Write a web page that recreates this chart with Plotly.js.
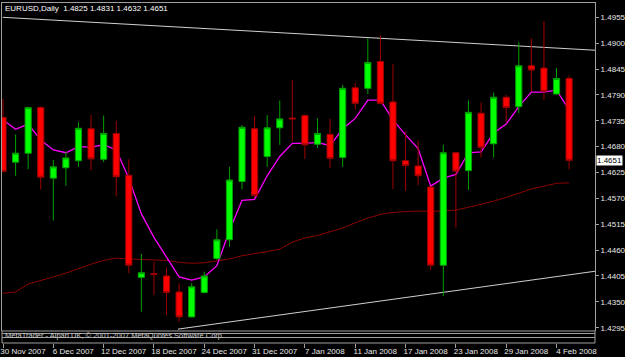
<!DOCTYPE html>
<html><head><meta charset="utf-8">
<script src="https://cdn.plot.ly/plotly-3.0.1.min.js"></script>
<style>html,body{margin:0;padding:0;background:#000;}#chart{width:625px;height:357px;}</style>
</head><body><div id="chart"></div>
<script>
// ---- data ----
const dates = ['30 Nov 2007','3 Dec 2007','4 Dec 2007','5 Dec 2007','6 Dec 2007','7 Dec 2007','10 Dec 2007','11 Dec 2007','12 Dec 2007','13 Dec 2007','14 Dec 2007','17 Dec 2007','18 Dec 2007','19 Dec 2007','20 Dec 2007','21 Dec 2007','24 Dec 2007','26 Dec 2007','27 Dec 2007','28 Dec 2007','31 Dec 2007','2 Jan 2008','3 Jan 2008','4 Jan 2008','7 Jan 2008','8 Jan 2008','9 Jan 2008','10 Jan 2008','11 Jan 2008','14 Jan 2008','15 Jan 2008','16 Jan 2008','17 Jan 2008','18 Jan 2008','21 Jan 2008','22 Jan 2008','23 Jan 2008','24 Jan 2008','25 Jan 2008','28 Jan 2008','29 Jan 2008','30 Jan 2008','31 Jan 2008','1 Feb 2008','4 Feb 2008','5 Feb 2008'];
const openP  = [1.4742,1.4647,1.4666,1.4763,1.4613,1.4635,1.4650,1.4718,1.4653,1.4708,1.4619,1.4402,1.4410,1.4405,1.4371,1.4318,1.4370,1.4442,1.4482,1.4606,1.4718,1.4659,1.4720,1.4741,1.4746,1.4685,1.4706,1.4657,1.4805,1.4804,1.4861,1.4775,1.4650,1.4639,1.4594,1.4428,1.4667,1.4629,1.4751,1.4686,1.4785,1.4765,1.4852,1.4847,1.4792,1.4825];
const highP  = [1.4781,1.4706,1.4765,1.4766,1.4652,1.4669,1.4732,1.4747,1.4746,1.4735,1.4653,1.4452,1.4435,1.4423,1.4389,1.4390,1.4414,1.4504,1.4637,1.4726,1.4745,1.4747,1.4778,1.4822,1.4748,1.4740,1.4739,1.4811,1.4815,1.4910,1.4917,1.4855,1.4712,1.4693,1.4595,1.4684,1.4668,1.4778,1.4774,1.4795,1.4790,1.4902,1.4910,1.4947,1.4847,1.4831];
const lowP   = [1.4625,1.4618,1.4632,1.4589,1.4523,1.4597,1.4637,1.4630,1.4647,1.4574,1.4411,1.4329,1.4365,1.4322,1.4308,1.4317,1.4368,1.4439,1.4467,1.4589,1.4571,1.4637,1.4684,1.4691,1.4654,1.4677,1.4635,1.4637,1.4759,1.4792,1.4770,1.4590,1.4586,1.4598,1.4418,1.4362,1.4508,1.4588,1.4657,1.4657,1.4730,1.4751,1.4797,1.4779,1.4790,1.4632];
const closeP = [1.4627,1.4666,1.4763,1.4615,1.4637,1.4656,1.4719,1.4654,1.4708,1.4616,1.4428,1.4412,1.4408,1.4370,1.4318,1.4382,1.4405,1.4482,1.4609,1.4721,1.4576,1.4720,1.4739,1.4739,1.4684,1.4708,1.4655,1.4804,1.4772,1.4859,1.4772,1.4650,1.4640,1.4618,1.4428,1.4667,1.4628,1.4753,1.4678,1.4785,1.4763,1.4852,1.4843,1.4798,1.4825,1.4651];
const maFast = [1.4737,1.4717,1.4728,1.4694,1.4673,1.4667,1.4680,1.4679,1.4684,1.4673,1.4613,1.4537,1.4487,1.4446,1.4403,1.4396,1.4403,1.4427,1.4501,1.4566,1.4568,1.4618,1.4659,1.4687,1.4687,1.4689,1.4682,1.4718,1.4740,1.4779,1.4779,1.4737,1.4705,1.4676,1.4596,1.4613,1.4621,1.4667,1.4669,1.4709,1.4728,1.4765,1.4796,1.4796,1.4800,1.4758];
const maSlow = [1.4368,1.4371,1.4388,1.4395,1.4403,1.4411,1.4421,1.4430,1.4438,1.4443,1.4441,1.4440,1.4439,1.4438,1.4434,1.4432,1.4433,1.4437,1.4441,1.4448,1.4452,1.4457,1.4462,1.4477,1.4486,1.4491,1.4499,1.4507,1.4518,1.4528,1.4536,1.4540,1.4542,1.4543,1.4542,1.4543,1.4545,1.4551,1.4557,1.4564,1.4572,1.4581,1.4590,1.4596,1.4602,1.4603];
const yTicks = [1.4295,1.4350,1.4405,1.4460,1.4515,1.4570,1.4625,1.4680,1.4735,1.4790,1.4845,1.4900,1.4955];
const xTickIdx = [0,4,8,12,16,20,24,28,32,36,40,44];
const upperTrendX = [-0.02, 47.06], upperTrendY = [1.4955, 1.4885];
const lowerTrendX = [13.91, 47.06], lowerTrendY = [1.4292, 1.4415];
const lastPrice = 1.4651;
const titleText = 'EURUSD,Daily  1.4825 1.4831 1.4632 1.4651';
const footerText = 'MetaTrader - Alpari UK, \u00a9 2001-2007 MetaQuotes Software Corp.';

// ---- chart ----
const idx = dates.map((d, i) => i);
const xr = [-0.0795, 47.059];
const yr = [1.428798, 1.498753];
const grey = '#a0a0a0';
const fnt = 'Liberation Sans, Arial, sans-serif';
const plotH = 341; // paper height in px
const py = p => (343 - p) / plotH;

const traces = [
  {type:'scatter', mode:'lines', x:idx, y:maSlow, line:{color:'#8b0000', width:1}, hoverinfo:'skip'},
  {type:'scatter', mode:'lines', x:idx, y:maFast, line:{color:'#ff00ff', width:1.3}, hoverinfo:'skip'},
  {type:'candlestick', x:idx, open:openP, high:highP, low:lowP, close:closeP,
   xaxis:'x2', yaxis:'y2', whiskerwidth:0, hoverinfo:'skip',
   increasing:{line:{color:'#00a000', width:1}, fillcolor:'#00ff00'},
   decreasing:{line:{color:'#a00000', width:1}, fillcolor:'#ff0000'}}
];

const hline = (p) => ({type:'line', xref:'paper', yref:'paper', x0:0, x1:1, y0:py(p), y1:py(p), line:{color:grey, width:1}});
const shapes = [
  {type:'line', xref:'x', yref:'y', x0:upperTrendX[0], x1:upperTrendX[1], y0:upperTrendY[0], y1:upperTrendY[1], line:{color:'#d0d0d0', width:1}, layer:'below'},
  {type:'line', xref:'x', yref:'y', x0:lowerTrendX[0], x1:lowerTrendX[1], y0:lowerTrendY[0], y1:lowerTrendY[1], line:{color:'#d0d0d0', width:1}, layer:'below'},
  hline(2.5), hline(331), hline(333.5), hline(337.5), hline(343),
  {type:'line', xref:'paper', yref:'paper', x0:0, x1:0, y0:0, y1:py(331), line:{color:grey, width:1}},
  {type:'line', xref:'paper', yref:'paper', x0:1, x1:1, y0:0, y1:py(331), line:{color:grey, width:1}}
];

const layout = {
  width:625, height:357,
  margin:{l:2, r:30, t:2, b:14, pad:0},
  paper_bgcolor:'#000', plot_bgcolor:'#000', showlegend:false,
  font:{family:fnt, size:8, color:'#e8e8e8'},
  title:{text:titleText, xref:'container', yref:'container', x:5/625, xanchor:'left', y:1-8/357, yanchor:'middle',
         font:{family:fnt, size:8, color:'#ffffff'}},
  xaxis:{range:xr, anchor:'free', position:0, tickmode:'array', tickvals:xTickIdx,
         ticktext:xTickIdx.map(i => dates[i]), ticks:'outside', ticklen:4, tickcolor:grey,
         showgrid:false, zeroline:false, showline:false, ticklabelshift:20, ticklabelstandoff:-4,
         rangeslider:{visible:false}, fixedrange:true},
  yaxis:{domain:[12/plotH, 1], range:yr, side:'right', tickmode:'array', tickvals:yTicks,
         ticktext:yTicks.map(v => v.toFixed(4)), ticks:'outside', ticklen:3, tickcolor:grey,
         showgrid:false, zeroline:false, showline:true, mirror:true, linecolor:grey, linewidth:1, fixedrange:true},
  xaxis2:{overlaying:'x', anchor:'y2', range:xr, visible:false, rangeslider:{visible:false}, fixedrange:true},
  yaxis2:{overlaying:'y', anchor:'x2', range:yr, visible:false, fixedrange:true},
  shapes:shapes,
  annotations:[
    {xref:'paper', yref:'y', x:1, y:lastPrice, xanchor:'left', yanchor:'middle', xshift:1,
     text:lastPrice.toFixed(4), showarrow:false, bgcolor:'#ffffff', borderpad:0,
     font:{family:fnt, size:8, color:'#000000'}},
    {xref:'paper', yref:'paper', x:1/593, y:py(335.5), xanchor:'left', yanchor:'middle',
     text:footerText, showarrow:false, font:{family:fnt, size:7.5, color:'#c8c8c8'}}
  ]
};

Plotly.newPlot('chart', traces, layout, {staticPlot:true, displayModeBar:false});
</script>
</body></html>
